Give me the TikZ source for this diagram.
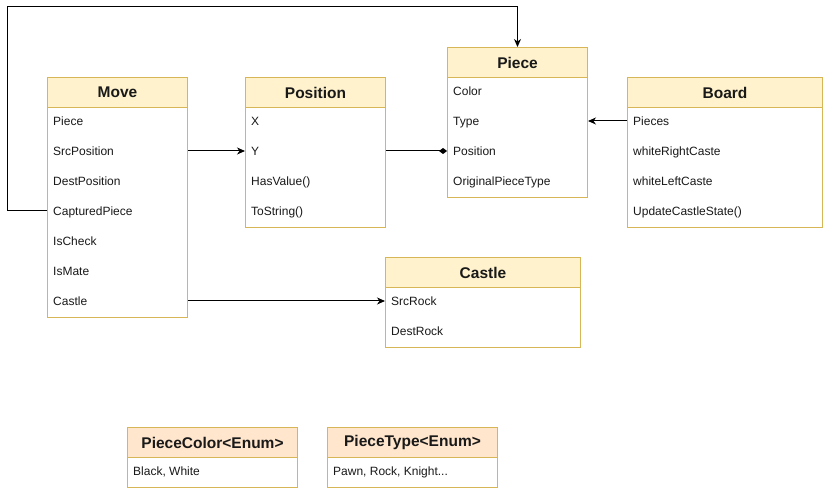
\documentclass[tikz,border=0pt]{standalone}
\usepackage{fontspec}
\setmainfont{Liberation Sans}
\usetikzlibrary{arrows.meta}
\definecolor{bd}{HTML}{D6B656}
\definecolor{hy}{HTML}{FFF2CC}
\definecolor{ho}{HTML}{FFE6CC}
\tikzset{
  hdr/.style={draw=bd, line width=1pt, fill=hy, minimum height=30pt, inner sep=0pt, anchor=north west,
    font=\bfseries\fontsize{15.5}{18}\selectfont, text=black!90},
  ehdr/.style={hdr, fill=ho},
  bodybox/.style={draw=bd, line width=1pt, fill=white, inner sep=0pt, anchor=north west},
  row/.style={anchor=base west, inner sep=0pt, yshift=-4.6pt, font=\fontsize{12}{14}\selectfont, text=black!90},
  conn/.style={line width=1pt, black},
  arr/.style={conn, -{Stealth[length=8pt,width=7pt,inset=2.5pt]}},
  dia/.style={conn, -{Diamond[length=8pt,width=6pt]}},
}
\begin{document}
\begin{tikzpicture}[x=1pt,y=-1pt]
\useasboundingbox (0,0) rectangle (823,489);
% Move
\node[bodybox, minimum width=140pt, minimum height=210pt] (moveb) at (47,107) {};
\node[hdr, minimum width=140pt] (move) at (47,77) {Move};
\coordinate (m1) at (53,121); \coordinate (m2) at (53,151); \coordinate (m3) at (53,181);
\coordinate (m4) at (53,211); \coordinate (m5) at (53,241); \coordinate (m6) at (53,271);
\coordinate (m7) at (53,301);
\node[row] (move-1) at (m1) {Piece};
\node[row] (move-2) at (m2) {SrcPosition};
\node[row] (move-3) at (m3) {DestPosition};
\node[row] (move-4) at (m4) {CapturedPiece};
\node[row] (move-5) at (m5) {IsCheck};
\node[row] (move-6) at (m6) {IsMate};
\node[row] (move-7) at (m7) {Castle};
% Position
\node[bodybox, minimum width=140pt, minimum height=120pt] (posb) at (245,107) {};
\node[hdr, minimum width=140pt] (pos) at (245,77) {Position};
\coordinate (p1) at (251,121); \coordinate (p2) at (251,151);
\coordinate (p3) at (251,181); \coordinate (p4) at (251,211);
\node[row] (pos-1) at (p1) {X};
\node[row] (pos-2) at (p2) {Y};
\node[row] (pos-3) at (p3) {HasValue()};
\node[row] (pos-4) at (p4) {ToString()};
% Piece
\node[bodybox, minimum width=140pt, minimum height=120pt] (pieceb) at (447,77) {};
\node[hdr, minimum width=140pt] (piece) at (447,47) {Piece};
\coordinate (q1) at (453,91); \coordinate (q2) at (453,121);
\coordinate (q3) at (453,151); \coordinate (q4) at (453,181);
\node[row] (piece-1) at (q1) {Color};
\node[row] (piece-2) at (q2) {Type};
\node[row] (piece-3) at (q3) {Position};
\node[row] (piece-4) at (q4) {OriginalPieceType};
% Board
\node[bodybox, minimum width=195pt, minimum height=120pt] (boardb) at (627,107) {};
\node[hdr, minimum width=195pt] (board) at (627,77) {Board};
\coordinate (b1) at (633,121); \coordinate (b2) at (633,151);
\coordinate (b3) at (633,181); \coordinate (b4) at (633,211);
\node[row] (board-1) at (b1) {Pieces};
\node[row] (board-2) at (b2) {whiteRightCaste};
\node[row] (board-3) at (b3) {whiteLeftCaste};
\node[row] (board-4) at (b4) {UpdateCastleState()};
% Castle
\node[bodybox, minimum width=195pt, minimum height=60pt] (castleb) at (385,287) {};
\node[hdr, minimum width=195pt] (castle) at (385,257) {Castle};
\coordinate (c1) at (391,301); \coordinate (c2) at (391,331);
\node[row] (castle-1) at (c1) {SrcRock};
\node[row] (castle-2) at (c2) {DestRock};
% Enums
\node[bodybox, minimum width=170pt, minimum height=30pt] (pcolb) at (127,457) {};
\node[ehdr, minimum width=170pt] (pcol) at (127,427) {PieceColor<Enum>};
\node[row] (pcol-1) at (133,471) {Black, White};
\node[bodybox, minimum width=170pt, minimum height=30pt] (ptypb) at (327,457) {};
\node[ehdr, minimum width=170pt] (ptyp) at (327,427) {PieceType<Enum>};
\node[row] (ptyp-1) at (333,471) {Pawn, Rock, Knight...};
% Connectors
\coordinate (lt) at (7,7);
\draw[conn] (m4 -| moveb.west) -| (lt);
\draw[arr] (lt) -| (piece.north);
\draw[arr] (m2 -| moveb.east) -- (p2 -| posb.west);
\draw[dia] (p2 -| posb.east) -- (q3 -| pieceb.west);
\draw[arr] (b1 -| boardb.west) -- (q2 -| pieceb.east);
\draw[arr] (m7 -| moveb.east) -- (c1 -| castleb.west);
\end{tikzpicture}
\end{document}
